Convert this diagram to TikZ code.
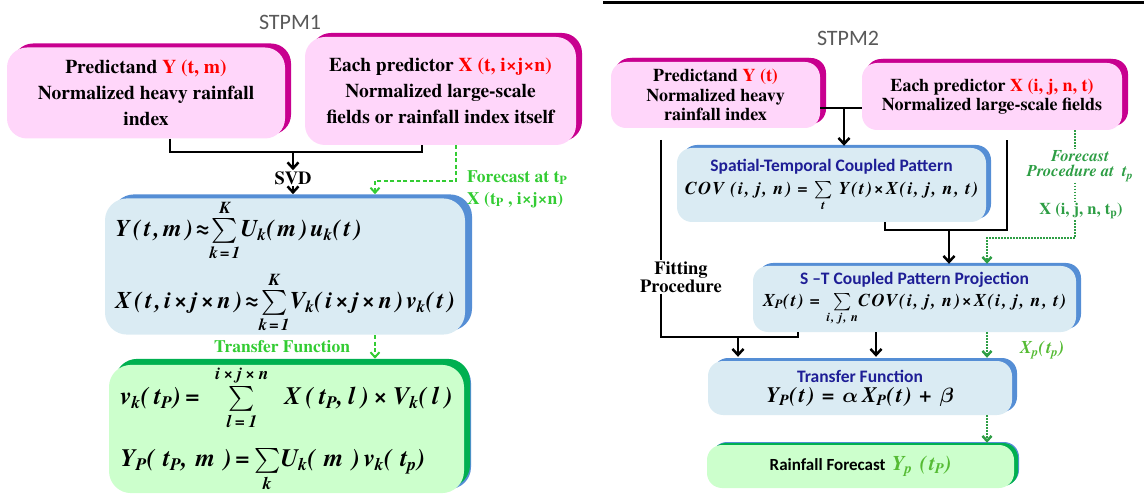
\documentclass[tikz,border=0pt]{standalone}
\usepackage{amsmath}
\usepackage{fontspec}
\setmainfont{texgyretermes}[Extension=.otf, UprightFont=*-regular, BoldFont=*-bold, ItalicFont=*-italic, BoldItalicFont=*-bolditalic]
\newfontfamily\eqfont{texgyretermes}[Extension=.otf, LetterSpace=10, UprightFont=*-regular, BoldFont=*-bold, ItalicFont=*-italic, BoldItalicFont=*-bolditalic]
\newfontfamily\eqmid{texgyretermes}[Extension=.otf, LetterSpace=13, UprightFont=*-regular, BoldFont=*-bold, ItalicFont=*-italic, BoldItalicFont=*-bolditalic]
\newfontfamily\eqwide{texgyretermes}[Extension=.otf, LetterSpace=20, UprightFont=*-regular, BoldFont=*-bold, ItalicFont=*-italic, BoldItalicFont=*-bolditalic]
\newfontfamily\eqxwide{texgyretermes}[Extension=.otf, LetterSpace=32, UprightFont=*-regular, BoldFont=*-bold, ItalicFont=*-italic, BoldItalicFont=*-bolditalic]
\newfontfamily\carl{Carlito}
\usetikzlibrary{arrows.meta, shadows}

\definecolor{pinkfill}{HTML}{FFD6FA}
\definecolor{pinkedge}{HTML}{C8008F}
\definecolor{bluefill}{HTML}{DAEBF3}
\definecolor{blueedge}{HTML}{558ED5}
\definecolor{greenfill}{HTML}{CCFFCC}
\definecolor{greenedge}{HTML}{00B050}
\definecolor{lgreen}{HTML}{33CC33}
\definecolor{dgreen}{HTML}{2E9E45}
\definecolor{xgreen}{HTML}{55BB33}
\definecolor{titleblue}{HTML}{1E1E96}
\definecolor{titlegray}{HTML}{595959}

\newcommand{\sbs}[1]{\textsubscript{#1}}
\newcommand{\btitle}[1]{\textcolor{titleblue}{\carl\bfseries\upshape\fontsize{17.5}{20}\selectfont #1}}

\begin{document}
\begin{tikzpicture}[
    x=1pt, y=-1pt,
    >={Straight Barb[length=6pt,width=11pt]},
    ttl/.style={text=titlegray, font=\carl\fontsize{22}{22}\selectfont},
    pinkbox/.style={rectangle, rounded corners=20pt, fill=pinkfill, align=center, inner sep=2pt, font=\bfseries\fontsize{19.5}{26}\selectfont, drop shadow={shadow xshift=6pt, shadow yshift=4pt, fill=pinkedge, opacity=1}},
    pinkbox2/.style={pinkbox, rounded corners=15pt, font=\bfseries\fontsize{18}{19.5}\selectfont, drop shadow={shadow xshift=4pt, shadow yshift=4pt, fill=pinkedge, opacity=1}},
    bluebox/.style={rectangle, rounded corners=22pt, fill=bluefill, align=left, inner sep=1pt, font=\eqmid\bfseries\itshape\fontsize{24}{28}\selectfont, drop shadow={shadow xshift=7pt, shadow yshift=4pt, fill=blueedge, opacity=1}},
    greenbox/.style={bluebox, fill=greenfill, font=\eqwide\bfseries\itshape\fontsize{25}{28}\selectfont, drop shadow={shadow xshift=6pt, shadow yshift=6pt, fill=greenedge, opacity=1}},
    bluebox2/.style={rectangle, rounded corners=15pt, fill=bluefill, align=center, inner sep=2pt, font=\eqfont\bfseries\itshape\fontsize{18}{20}\selectfont, drop shadow={shadow xshift=5pt, shadow yshift=3pt, fill=blueedge, opacity=1}},
    greenbox2/.style={bluebox2, fill=greenfill, drop shadow={shadow xshift=4pt, shadow yshift=2pt, fill=greenedge, opacity=1}},
    lbl/.style={font=\bfseries\fontsize{18.5}{18}\selectfont, inner sep=1pt, align=center},
    glbl/.style={text=lgreen, font=\bfseries\fontsize{17.5}{22}\selectfont, inner sep=1pt},
    gtxt/.style={text=dgreen, font=\bfseries\itshape\fontsize{16.5}{15}\selectfont, inner sep=1pt, align=center},
    bline/.style={line width=2.5pt, black},
    barrow/.style={bline, ->},
    gdash/.style={lgreen, line width=2pt, dash pattern=on 4pt off 2.5pt, >={Straight Barb[length=5pt,width=9pt]}},
    gdot/.style={dgreen, line width=2.5pt, dash pattern=on 1.5pt off 1.5pt, >={Straight Barb[length=5pt,width=9pt]}}
]
\useasboundingbox (0,0) rectangle (1144,497);

% STPM1
\node[ttl] (t1) at (290,22) {STPM1};

\node[pinkbox, minimum width=278pt, minimum height=91pt] (pred1) at (146,93) {Predictand \textcolor{red}{Y (t, m)}\\Normalized heavy rainfall\\index};
\node[pinkbox, minimum width=271pt, minimum height=108pt] (pdtr1) at (440.5,91) {Each predictor \textcolor{red}{X (t, i×j×n)}\\Normalized large-scale\\fields or rainfall index itself};

\node[bluebox, minimum width=360pt, minimum height=123pt] (svdbox) at (285,266.5) {Y(t,m)≈$\sum\limits_{\text{k=1}}^{\text{K}}$U\sbs{k}(m)u\sbs{k}(t)\\[9pt]X(t,i×j×n)≈$\sum\limits_{\text{k=1}}^{\text{K}}$V\sbs{k}(i×j×n)v\sbs{k}(t)};
\node[greenbox, minimum width=355pt, minimum height=126pt] (tfbox) at (286.5,429) {v\sbs{k}(t\sbs{P})= \,$\sum\limits_{\text{l=1}}^{\text{i×j×n}}$\, X(t\sbs{P},l)×V\sbs{k}(l)\\[17pt]{\eqxwide Y\sbs{P}(t\sbs{P},m)\,=\,$\sum\limits_{\text{k}}$U\sbs{k}(m)\,v\sbs{k}(t\sbs{p})}};

\node[lbl] (svd) at (293,178) {SVD};
\node[glbl, anchor=west, align=left] (fat) at (466,189) {Forecast at t\sbs{P}\\X (t\sbs{P} , i×j×n)};
\node[glbl] (tfl) at (282,347) {Transfer Function};

\coordinate (jl) at (170,152);
\coordinate (jm) at (293,152);
\coordinate (jr) at (422,152);
\coordinate (fc) at (456,181);
\coordinate (fl) at (375,181);
\coordinate (tfa) at (375,335);

\draw[bline] (pred1.south -| jl) |- (jm) -| (pdtr1.south -| jr);
\draw[barrow] (jm) -- (svd.north);
\draw[barrow] (svd.south) -- ([yshift=4pt]svd.south |- svdbox.north);
\draw[gdash, ->] (pdtr1.south -| fc) -- (fc) -- (fl) -- ([yshift=4pt]fl |- svdbox.north);
\draw[gdash, ->] (tfa) -- ([yshift=6pt]tfa |- tfbox.north);

% STPM2
\draw[line width=3pt] (603,3) -- (1144,3);
\node[ttl] (t2) at (848,38) {STPM2};

\node[pinkbox2, minimum width=209pt, minimum height=66pt] (pred2) at (715.5,95) {Predictand \textcolor{red}{Y (t)}\\Normalized heavy\\rainfall index};
\node[pinkbox2, minimum width=260pt, minimum height=67pt] (pdtr2) at (992,96.5) {Each predictor \textcolor{red}{X (i, j, n, t)}\\Normalized large-scale fields};

\node[bluebox2, minimum width=309pt, minimum height=74pt] (stcp) at (831.5,185) {\btitle{Spatial-Temporal Coupled Pattern}\\[3pt]COV (i, j, n) = $\sum\limits_{\text{t}}$ Y(t)×X(i, j, n, t)};
\node[bluebox2, minimum width=323pt, minimum height=66pt] (proj) at (914.5,299) {\btitle{S –T Coupled Pattern Projection}\\[2pt]X\sbs{P}(t) = $\sum\limits_{\text{i, j, n}}$COV(i, j, n)×X(i, j, n, t)};
\node[bluebox2, minimum width=304pt, minimum height=54pt] (tf2) at (860,388) {\btitle{Transfer Function}\\\fontsize{22}{22}\selectfont Y\sbs{P}(t)\ =\ $\boldsymbol{\alpha}$\,X\sbs{P}(t)\ +\ $\boldsymbol{\beta}$};
\node[greenbox2, minimum width=307pt, minimum height=43pt] (fcst) at (860.5,466.5) {{\carl\bfseries\upshape\fontsize{17}{20}\selectfont Rainfall Forecast} \textcolor{xgreen}{\fontsize{21}{22}\selectfont Y\sbs{p} (t\sbs{P})}};

\node[lbl] (fit) at (681,277) {Fitting\\Procedure};
\node[gtxt] (fp) at (1080,166) {Forecast\\Procedure at \ t\sbs{p}};
\node[gtxt, font=\bfseries\fontsize{16.5}{15}\selectfont] (xv) at (1081,211) {X (i, j, n, t\sbs{p})};
\node[gtxt, text=xgreen, font=\eqfont\bfseries\itshape\fontsize{18}{18}\selectfont] (xpl) at (1042,350) {X\sbs{p}(t\sbs{p})};

\coordinate (mj) at (844,108);
\coordinate (fa) at (661,140);
\coordinate (fb) at (738,337);
\coordinate (fr) at (798,337);
\coordinate (bl) at (885,230);
\coordinate (bm) at (949,230);
\coordinate (br) at (1007,230);
\coordinate (bt) at (1007,140);
\coordinate (pa) at (876,340);
\coordinate (gx) at (1075,238);
\coordinate (gy) at (987,238);

\draw[bline] (pred2.east |- mj) -- (pdtr2.west |- mj);
\draw[barrow] (mj) -- ([yshift=2pt]mj |- stcp.north);
\draw[bline] (fa) -- (fa |- fit.north);
\draw[bline] (fa |- fit.south) |- (fr) -- (fr |- proj.south);
\draw[barrow] (fb) -- ([yshift=4pt]fb |- tf2.north);
\draw[bline] (stcp.south -| bl) -- (bl) -- (br) -- (bt);
\draw[barrow] (bm) -- ([yshift=2pt]bm |- proj.north);
\draw[barrow] (proj.south -| pa) -- ([yshift=4pt]pa |- tf2.north);

\draw[gdot] (pdtr2.south -| gx) -- (fp.north -| gx);
\draw[gdot] (fp.south -| gx) -- (xv.north -| gx);
\draw[gdot, ->] (xv.south -| gx) -- (gx) -- (gy) -- ([yshift=2pt]gy |- proj.north);
\draw[gdot, ->] (proj.south -| gy) -- ([yshift=3pt]gy |- tf2.north);
\draw[gdot, ->] (tf2.south -| gy) -- ([yshift=2pt]gy |- fcst.north);
\end{tikzpicture}
\end{document}
